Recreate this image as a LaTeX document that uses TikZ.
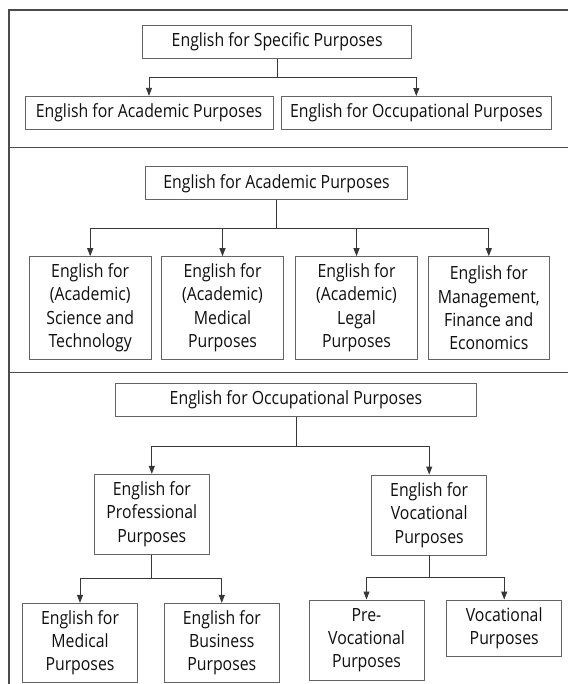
\documentclass[tikz,border=0pt]{standalone}
\usepackage{fontspec}
\setmainfont[FakeStretch=0.87]{Open Sans}
\usetikzlibrary{arrows.meta}
\definecolor{boxgray}{RGB}{100,100,100}
\definecolor{framegray}{RGB}{75,75,75}
\definecolor{linkgray}{RGB}{55,55,55}
\definecolor{textgray}{RGB}{15,15,15}

\tikzset{
  esbox/.style={draw=boxgray, line width=0.9pt, fill=white, text=textgray,
    align=center, inner sep=0pt, font=\fontsize{18.2}{23.3}\selectfont},
  link/.style={draw=linkgray, line width=0.9pt},
  linkarrow/.style={link, -{Triangle[width=6pt,length=8pt]}}
}

\begin{document}
\begin{tikzpicture}[x=1pt, y=-1pt]
    \useasboundingbox (0,0) rectangle (568,684);

    % Moldura e divisões das três partes
    \draw[framegray, line width=1.2pt] (568,10) -- (9,10) -- (9,684);
    \draw[framegray, line width=1.2pt] (9,147.3) -- (568,147.3);
    \draw[framegray, line width=1.2pt] (9,372.7) -- (568,372.7);

    % Parte 1: ESP
    \node[esbox, minimum width=269pt, minimum height=33pt] (esp) at (277.2,41.8) {English for Specific Purposes};
    \node[esbox, minimum width=248pt, minimum height=33pt] (eapA) at (149,112.8) {English for Academic Purposes};
    \node[esbox, minimum width=270.7pt, minimum height=33pt] (eopA) at (416.3,113) {English for Occupational Purposes};

    \draw[link] (esp.south) -- ++(0,18.7) coordinate (espfork);
    \draw[linkarrow] (espfork) -| (eapA.north);
    \draw[linkarrow] (espfork) -| (eopA.north);

    % Parte 2: EAP
    \node[esbox, minimum width=261.6pt, minimum height=33.3pt] (eapB) at (276.5,183.3) {English for Academic Purposes};
    \node[esbox, minimum width=121.7pt, minimum height=102.3pt] (est) at (90.2,307.8) {English for\\(Academic)\\Science and\\Technology};
    \node[esbox, minimum width=121.6pt, minimum height=102.3pt] (emp) at (222.5,307.8) {English for\\(Academic)\\Medical\\Purposes};
    \node[esbox, minimum width=121.6pt, minimum height=102.3pt] (elp) at (356.5,307.8) {English for\\(Academic)\\Legal\\Purposes};
    \node[esbox, minimum width=121pt, minimum height=102.3pt] (emfe) at (488.8,307.8) {English for\\Management,\\Finance and\\Economics};

    \draw[link] (eapB.south) -- ++(0,28.3) coordinate (eapfork);
    \foreach \n in {est,emp,elp,emfe}
        \draw[linkarrow] (eapfork) -| (\n.north);

    % Parte 3: EOP
    \node[esbox, minimum width=360.6pt, minimum height=33.4pt] (eopB) at (296,400) {English for Occupational Purposes};
    \node[esbox, minimum width=115pt, minimum height=79.7pt] (epp) at (151.8,514.2) {English for\\Professional\\Purposes};
    \node[esbox, minimum width=115pt, minimum height=80pt] (evp) at (429.2,515) {English for\\Vocational\\Purposes};

    \draw[link] (eopB.south) -- ++(0,29.3) coordinate (eopfork);
    \draw[linkarrow] (eopfork) -| (epp.north);
    \draw[linkarrow] (eopfork) -| (evp.north);

    \node[esbox, minimum width=114.6pt, minimum height=79pt] (emed) at (80,642.8) {English for\\Medical\\Purposes};
    \node[esbox, minimum width=115pt, minimum height=79pt] (ebus) at (221.8,642.8) {English for\\Business\\Purposes};
    \node[esbox, minimum width=115pt, minimum height=80pt] (prevoc) at (366.5,640) {Pre-\\Vocational\\Purposes};
    \node[esbox, minimum width=115pt, minimum height=56pt] (voc) at (504.2,628) {Vocational\\Purposes};

    \draw[link] (epp.south) -- ++(0,24.3) coordinate (eppfork);
    \draw[linkarrow] (eppfork) -| (emed.north);
    \draw[linkarrow] (eppfork) -| (ebus.north);

    \draw[link] (evp.south) -- ++(0,21.7) coordinate (evpfork);
    \draw[linkarrow] (evpfork) -| (prevoc.north);
    \draw[linkarrow] (evpfork) -| (voc.north);
\end{tikzpicture}
\end{document}
